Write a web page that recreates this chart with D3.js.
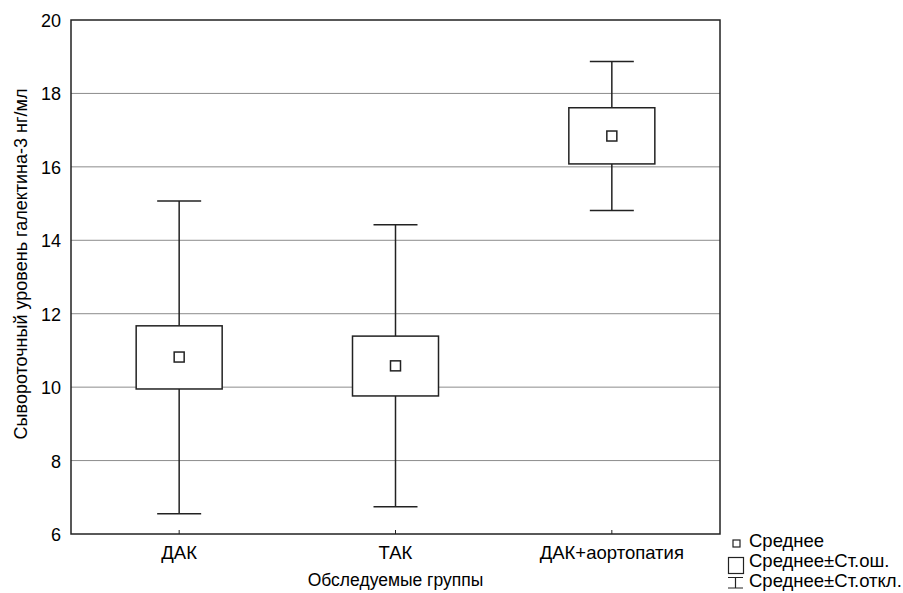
<!DOCTYPE html>
<html>
<head>
<meta charset="utf-8">
<script src="https://cdn.jsdelivr.net/npm/d3@7"></script>
<style>
  body { margin: 0; background: #fff; }
  text { font-family: "Liberation Sans", Arial, sans-serif; fill: #000; }
</style>
</head>
<body>
<svg id="chart" width="903" height="593"></svg>
<script>
// data
const groups = ["ДАК", "ТАК", "ДАК+аортопатия"];
const means = [10.82, 10.58, 16.84];
const seLow = [9.95, 9.76, 16.08];
const seHigh = [11.67, 11.39, 17.61];
const sdLow = [6.55, 6.74, 14.81];
const sdHigh = [15.07, 14.42, 18.87];
const yTicks = [6, 8, 10, 12, 14, 16, 18, 20];
const legendItems = ["Среднее", "Среднее±Ст.ош.", "Среднее±Ст.откл."];

const svg = d3.select("#chart");
const plotL = 71, plotR = 720, plotT = 20, plotB = 534;

const x = d3.scalePoint().domain(groups).range([plotL, plotR]).padding(0.5);
const y = d3.scaleLinear().domain([6, 20]).range([plotB, plotT]);

// gridlines
svg.append("g").selectAll("line").data(yTicks.slice(1, -1)).join("line")
  .attr("x1", plotL).attr("x2", plotR)
  .attr("y1", d => y(d)).attr("y2", d => y(d))
  .attr("stroke", "#8c8c8c").attr("stroke-width", 1);

// y axis labels
svg.append("g").selectAll("text").data(yTicks).join("text")
  .attr("x", plotL - 10).attr("y", d => y(d) + 7)
  .attr("text-anchor", "end").attr("font-size", 18)
  .text(d => d);

// x axis labels and ticks
svg.append("g").selectAll("text").data(groups).join("text")
  .attr("x", d => x(d)).attr("y", plotB + 25)
  .attr("text-anchor", "middle").attr("font-size", 18.5)
  .text(d => d);
svg.append("g").selectAll("line").data(groups).join("line")
  .attr("x1", d => x(d)).attr("x2", d => x(d))
  .attr("y1", plotB).attr("y2", plotB - 4)
  .attr("stroke", "#222").attr("stroke-width", 1);

// axis titles
svg.append("text")
  .attr("x", (plotL + plotR) / 2).attr("y", 586)
  .attr("text-anchor", "middle").attr("font-size", 17.5)
  .text("Обследуемые группы");
svg.append("text")
  .attr("transform", "translate(27,264) rotate(-90)")
  .attr("text-anchor", "middle").attr("font-size", 18)
  .text("Сывороточный уровень галектина-3 нг/мл");

const boxHalf = 43, capHalf = 22, meanHalf = 5;
const g = svg.append("g").attr("stroke", "#222").attr("stroke-width", 1.5).attr("fill", "none");

groups.forEach((grp, i) => {
  const cx = x(grp);
  // whiskers
  g.append("line").attr("x1", cx).attr("x2", cx).attr("y1", y(sdHigh[i])).attr("y2", y(seHigh[i]));
  g.append("line").attr("x1", cx).attr("x2", cx).attr("y1", y(seLow[i])).attr("y2", y(sdLow[i]));
  g.append("line").attr("x1", cx - capHalf).attr("x2", cx + capHalf).attr("y1", y(sdHigh[i])).attr("y2", y(sdHigh[i]));
  g.append("line").attr("x1", cx - capHalf).attr("x2", cx + capHalf).attr("y1", y(sdLow[i])).attr("y2", y(sdLow[i]));
  // box
  g.append("rect").attr("x", cx - boxHalf).attr("y", y(seHigh[i]))
    .attr("width", boxHalf * 2).attr("height", y(seLow[i]) - y(seHigh[i]))
    .attr("fill", "#fff");
  // mean
  g.append("rect").attr("x", cx - meanHalf).attr("y", y(means[i]) - meanHalf)
    .attr("width", meanHalf * 2).attr("height", meanHalf * 2).attr("fill", "#fff");
});

// frame
svg.append("rect").attr("x", plotL).attr("y", plotT)
  .attr("width", plotR - plotL).attr("height", plotB - plotT)
  .attr("fill", "none").attr("stroke", "#222").attr("stroke-width", 1.5);

// legend
const lg = svg.append("g").attr("fill", "none").attr("stroke", "#222").attr("stroke-width", 1.2);
lg.append("rect").attr("x", 733).attr("y", 540).attr("width", 7).attr("height", 7);
lg.append("rect").attr("x", 728.5).attr("y", 557.5).attr("width", 15).attr("height", 16);
lg.append("path").attr("d", "M728,577.5 H743 M735.5,577.5 V588 M728,588 H743");
svg.append("g").selectAll("text").data(legendItems).join("text")
  .attr("x", 749).attr("y", (d, i) => 547 + i * 20)
  .attr("font-size", 18.5)
  .text(d => d);
</script>
</body>
</html>
